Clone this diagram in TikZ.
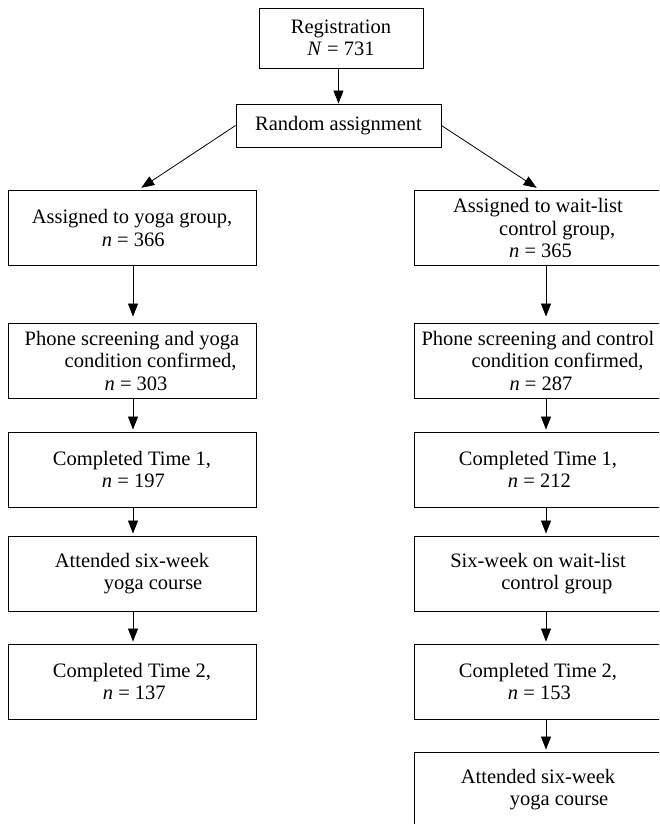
\documentclass[tikz,border=0pt]{standalone}
\usepackage{fontspec}
\setmainfont{Liberation Serif}
\usetikzlibrary{arrows.meta}
\begin{document}
\begin{tikzpicture}[x=1pt,y=-1pt,
  box/.style={draw, line width=0.9pt, minimum width=248pt, minimum height=75pt, inner sep=0pt, align=left, font=\fontsize{20.5}{22.5}\selectfont},
  arr/.style={-{Triangle[length=13pt,width=10pt]}, line width=0.8pt}]
\useasboundingbox (0,0) rectangle (659,824);
\clip (0,0) rectangle (659,824);
\node[box, minimum width=164pt, minimum height=60pt, align=center] (reg) at (341,38) {Registration\\\textit{N} = 731};
\node[box, minimum width=205pt, minimum height=43pt, align=center] (rand) at (338.5,125.5) {Random assignment};
\node[box] (la1) at (132,228) {Assigned to yoga group,\\\hspace*{70pt}\textit{n} = 366};
\node[box] (ra1) at (538,228) {Assigned to wait-list\\\hspace*{46pt}control group,\\\hspace*{56pt}\textit{n} = 365};
\node[box] (la2) at (132,360.5) {Phone screening and yoga\\\hspace*{40pt}condition confirmed,\\\hspace*{80pt}\textit{n} = 303};
\node[box] (ra2) at (538,360.5) {Phone screening and control\\\hspace*{50pt}condition confirmed,\\\hspace*{88pt}\textit{n} = 287};
\node[box] (lt1) at (132,469.5) {Completed Time 1,\\\hspace*{49pt}\textit{n} = 197};
\node[box] (rt1) at (538,469.5) {Completed Time 1,\\\hspace*{49pt}\textit{n} = 212};
\node[box] (lc) at (132,573.5) {Attended six-week\\\hspace*{49pt}yoga course};
\node[box] (rc) at (538,573.5) {Six-week on wait-list\\\hspace*{51pt}control group};
\node[box] (lt2) at (132,681.5) {Completed Time 2,\\\hspace*{50pt}\textit{n} = 137};
\node[box] (rt2) at (538,681.5) {Completed Time 2,\\\hspace*{49pt}\textit{n} = 153};
\node[box] (ry) at (538,789.5) {Attended six-week\\\hspace*{49pt}yoga course};
\coordinate (lx) at (133,0);
\coordinate (rx) at (546,0);
\coordinate (ld) at (138,0);
\coordinate (rd) at (540,0);
\draw[arr] (rand.north |- reg.south) -- (rand.north);
\draw[arr, shorten >=4pt] (rand.west) -- (la1.north -| ld);
\draw[arr, shorten >=4pt] (rand.east) -- (ra1.north -| rd);
\draw[arr, shorten >=6pt] (la1.south -| lx) -- (la2.north -| lx);
\draw[arr, shorten >=6pt] (ra1.south -| rx) -- (ra2.north -| rx);
\draw[arr, shorten >=2pt] (la2.south -| lx) -- (lt1.north -| lx);
\draw[arr, shorten >=2pt] (ra2.south -| rx) -- (rt1.north -| rx);
\draw[arr, shorten >=2pt] (lt1.south -| lx) -- (lc.north -| lx);
\draw[arr, shorten >=2pt] (rt1.south -| rx) -- (rc.north -| rx);
\draw[arr, shorten >=2pt] (lc.south -| lx) -- (lt2.north -| lx);
\draw[arr, shorten >=2pt] (rc.south -| rx) -- (rt2.north -| rx);
\draw[arr, shorten >=2pt] (rt2.south -| rx) -- (ry.north -| rx);
\end{tikzpicture}
\end{document}
